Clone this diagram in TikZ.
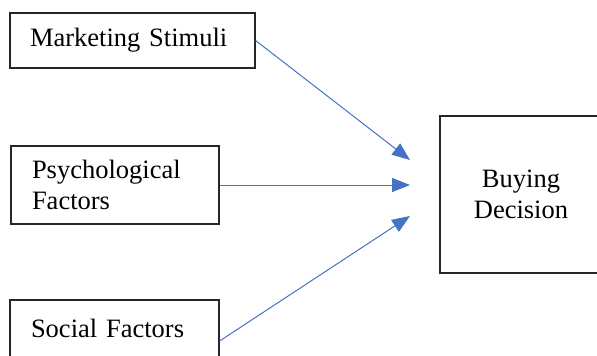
\documentclass[tikz,border=0pt]{standalone}
\usepackage{fontspec}
\setmainfont{Liberation Serif}
\usetikzlibrary{arrows.meta}
\definecolor{arrowblue}{HTML}{4472C4}
\begin{document}
\begin{tikzpicture}[x=1pt,y=-1pt,
    box/.style={draw=black!85,line width=1.2pt,inner sep=0pt,font=\fontsize{26.5}{31}\selectfont},
    flow/.style={draw=arrowblue,line width=1pt,-{Triangle[length=18pt,width=14pt]}}]
          \clip (0,0) rectangle (597,356);
          \node[box,text width=205pt,inner xsep=20pt,align=left,minimum height=55pt] (market) at (132.5,40.5) {Marketing Stimuli};
          \node[box,text width=166pt,inner xsep=21pt,align=left,minimum height=78pt] (psych) at (115,185) {Psychological\\Factors};
          \node[box,text width=167pt,inner xsep=21pt,align=left,minimum height=82pt,text depth=26pt] (social) at (114.5,341) {Social Factors};
          \node[box,minimum width=162pt,minimum height=157pt,align=center] (buying) at (521,194.5) {Buying\\Decision};
          \coordinate (t1) at (410,160);
          \coordinate (t2) at (410,185);
          \coordinate (t3) at (410,216);
          \draw[flow] (market.east) -- (t1);
          \draw[flow] (psych.east) -- (t2);
          \draw[flow] (social.east) -- (t3);
        \end{tikzpicture}
\end{document}
